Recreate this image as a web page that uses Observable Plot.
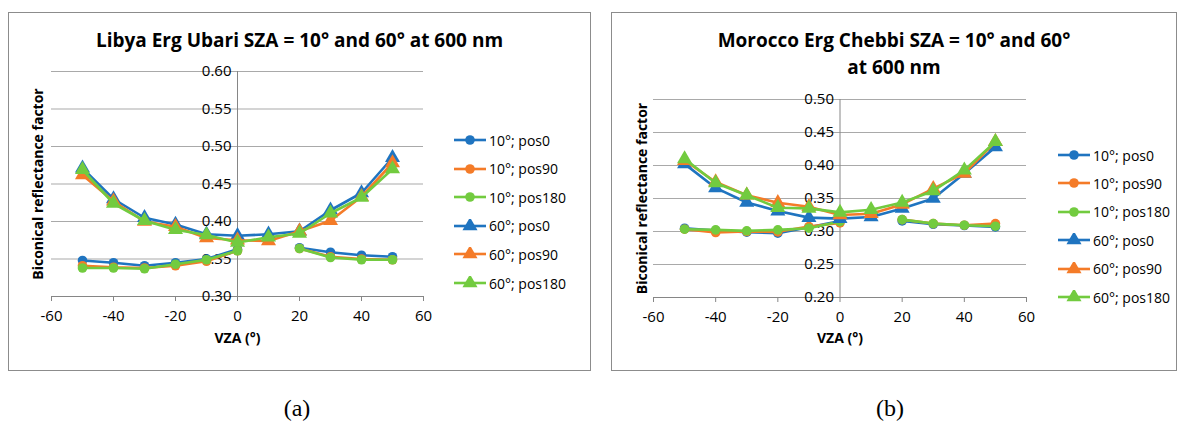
<!DOCTYPE html>
<html><head><meta charset="utf-8">
<script src="https://cdn.jsdelivr.net/npm/d3@7"></script>
<script src="https://cdn.jsdelivr.net/npm/@observablehq/plot@0.6"></script>
<style>
body{margin:0;background:#fff;font-family:"Open Sans",sans-serif;color:#000;}
#page{position:relative;width:1183px;height:426px;overflow:hidden;background:#fff;}
.panel{position:absolute;border:1px solid #8c8c8c;box-sizing:border-box;background:#fff;}
.panel svg{position:absolute;left:0;top:0;}
.title{position:absolute;left:0;right:0;text-align:center;font-weight:bold;font-size:19px;line-height:27px;}
.item{position:absolute;display:flex;align-items:center;white-space:nowrap;font-size:14px;height:20px;}
.item svg{position:static;margin-right:3px;}
.caption{position:absolute;font-family:"Liberation Serif",serif;font-size:24px;transform:translate(-50%,-50%);}
</style></head><body><div id="page"></div><script>
// ---- data ----
const vza = [-50, -40, -30, -20, -10, 0, 10, 20, 30, 40, 50];
const seriesNames = ["10°; pos0", "10°; pos90", "10°; pos180", "60°; pos0", "60°; pos90", "60°; pos180"];
const seriesColors = ["#1f74c0", "#f47b28", "#72cb3f", "#1f74c0", "#f47b28", "#72cb3f"];
const seriesSymbols = ["circle", "circle", "circle", "triangle", "triangle", "triangle"];
const xTicks = [-60, -40, -20, 0, 20, 40, 60];

const libyaTitle = ["Libya Erg Ubari SZA = 10° and 60° at 600 nm"];
const libyaYTicks = [0.30, 0.35, 0.40, 0.45, 0.50, 0.55, 0.60];
const libya10pos0   = [0.348, 0.345, 0.341, 0.345, 0.350, 0.363, null, 0.365, 0.359, 0.355, 0.353];
const libya10pos90  = [0.341, 0.339, 0.338, 0.341, 0.347, 0.361, null, 0.364, 0.353, 0.350, 0.349];
const libya10pos180 = [0.338, 0.338, 0.337, 0.343, 0.349, 0.361, null, 0.364, 0.352, 0.349, 0.349];
const libya60pos0   = [0.471, 0.430, 0.405, 0.396, 0.383, 0.381, 0.383, 0.387, 0.415, 0.438, 0.485];
const libya60pos90  = [0.462, 0.427, 0.400, 0.393, 0.378, 0.375, 0.374, 0.387, 0.401, 0.433, 0.478];
const libya60pos180 = [0.469, 0.424, 0.401, 0.389, 0.382, 0.372, 0.379, 0.384, 0.411, 0.432, 0.470];

const moroccoTitle = ["Morocco Erg Chebbi SZA = 10° and 60°", "at 600 nm"];
const moroccoYTicks = [0.20, 0.25, 0.30, 0.35, 0.40, 0.45, 0.50];
const morocco10pos0   = [0.305, 0.3015, 0.299, 0.2975, 0.3065, 0.316, null, 0.316, 0.311, 0.309, 0.307];
const morocco10pos90  = [0.3035, 0.2985, 0.300, 0.2995, 0.3075, 0.313, null, 0.318, 0.312, 0.3095, 0.312];
const morocco10pos180 = [0.3035, 0.3025, 0.301, 0.3025, 0.305, 0.315, null, 0.318, 0.312, 0.3095, 0.308];
const morocco60pos0   = [0.4025, 0.366, 0.344, 0.331, 0.321, 0.3195, 0.322, 0.335, 0.350, 0.388, 0.428];
const morocco60pos90  = [0.4075, 0.375, 0.355, 0.3435, 0.3375, 0.325, 0.327, 0.341, 0.365, 0.388, 0.436];
const morocco60pos180 = [0.410, 0.3735, 0.355, 0.336, 0.335, 0.329, 0.333, 0.344, 0.3615, 0.393, 0.436];

const xLabel = "VZA (°)";
const yLabel = "Biconical reflectance factor";
const captions = ["(a)", "(b)"];

// ---- layout ----
const page = document.getElementById("page");

function buildPanel(cfg) {
  const panel = document.createElement("div");
  panel.className = "panel";
  Object.assign(panel.style, {left: cfg.left + "px", top: cfg.top + "px", width: cfg.w + "px", height: cfg.h + "px"});
  page.appendChild(panel);

  const rows = [];
  cfg.values.forEach((arr, i) => arr.forEach((v, j) => rows.push({series: seriesNames[i], vza: vza[j], value: v})));

  const marks = [
    Plot.ruleY(cfg.yTicks.slice(1), {stroke: "#a9a9a9", strokeWidth: 1}),
    Plot.ruleX([0], {stroke: "#868686", strokeWidth: 1}),
    Plot.ruleY([cfg.yTicks[0]], {stroke: "#868686", strokeWidth: 1}),
    Plot.axisX({ticks: xTicks, tickSize: 5, tickPadding: 9, fontSize: 15, label: null, stroke: "#868686", tickFormat: d => String(d)}),
    Plot.text(cfg.yTicks, {x: 0, y: d => d, text: d => d.toFixed(2), textAnchor: "end", dx: -6, fontSize: 15, fill: "#000"}),
    Plot.text([xLabel], {x: 0, frameAnchor: "bottom", lineAnchor: "middle", dy: cfg.xLabelDy, fontSize: 14, fontWeight: "bold", fill: "#000"}),
    Plot.text([yLabel], {frameAnchor: "left", textAnchor: "middle", lineAnchor: "middle", rotate: -90, dx: cfg.yLabelDx, fontSize: 14, fontWeight: "bold", fill: "#000"})
  ];
  seriesNames.forEach((name, i) => {
    const d = rows.filter(r => r.series === name);
    marks.push(Plot.line(d, {x: "vza", y: "value", stroke: seriesColors[i], strokeWidth: 2.6}));
    marks.push(Plot.dot(d, {x: "vza", y: "value", fill: seriesColors[i], stroke: "none", symbol: seriesSymbols[i], r: seriesSymbols[i] === "circle" ? 4.8 : 5.6}));
  });

  const svg = Plot.plot({
    width: cfg.w - 2, height: cfg.h - 2,
    marginLeft: cfg.mL, marginRight: cfg.mR, marginTop: cfg.mT, marginBottom: cfg.mB,
    x: {domain: [-60, 60]},
    y: {domain: [cfg.yTicks[0], cfg.yTicks[cfg.yTicks.length - 1]], axis: null},
    style: {fontFamily: "Open Sans", fontSize: "15px", color: "#000", background: "transparent", overflow: "visible"},
    marks
  });
  panel.appendChild(svg);

  const title = document.createElement("div");
  title.className = "title";
  title.style.top = cfg.titleTop + "px";
  title.innerHTML = cfg.title.join("<br>");
  panel.appendChild(title);

  seriesNames.forEach((name, i) => {
    const item = document.createElement("div");
    item.className = "item";
    item.style.left = cfg.legLeft + "px";
    item.style.top = (cfg.legTop + i * cfg.legStep - 10) + "px";
    const s = d3.create("svg").attr("width", 32).attr("height", 14);
    s.append("line").attr("x1", 0).attr("x2", 32).attr("y1", 7).attr("y2", 7).attr("stroke", seriesColors[i]).attr("stroke-width", 2.6);
    const sym = seriesSymbols[i] === "circle" ? d3.symbolCircle : d3.symbolTriangle;
    const size = seriesSymbols[i] === "circle" ? Math.PI * 4.8 * 4.8 : Math.PI * 5.6 * 5.6;
    s.append("path").attr("d", d3.symbol(sym, size)()).attr("transform", "translate(16,7)").attr("fill", seriesColors[i]);
    item.appendChild(s.node());
    const t = document.createElement("span");
    t.textContent = name;
    item.appendChild(t);
    panel.appendChild(item);
  });
}

buildPanel({
  left: 8, top: 12, w: 583, h: 359,
  mL: 42, mR: 167, mT: 58, mB: 74,
  yTicks: libyaYTicks, title: libyaTitle, titleTop: 14,
  values: [libya10pos0, libya10pos90, libya10pos180, libya60pos0, libya60pos90, libya60pos180],
  xLabelDy: 42, yLabelDx: -13,
  legLeft: 445, legTop: 127, legStep: 28.6
});
buildPanel({
  left: 611, top: 12, w: 566, h: 359,
  mL: 41, mR: 150, mT: 86, mB: 73,
  yTicks: moroccoYTicks, title: moroccoTitle, titleTop: 14,
  values: [morocco10pos0, morocco10pos90, morocco10pos180, morocco60pos0, morocco60pos90, morocco60pos180],
  xLabelDy: 41, yLabelDx: -11,
  legLeft: 446, legTop: 142, legStep: 28.4
});

[[297, 408], [890, 408]].forEach((p, i) => {
  const c = document.createElement("div");
  c.className = "caption";
  c.style.left = p[0] + "px"; c.style.top = p[1] + "px";
  c.textContent = captions[i];
  page.appendChild(c);
});
</script></body></html>
